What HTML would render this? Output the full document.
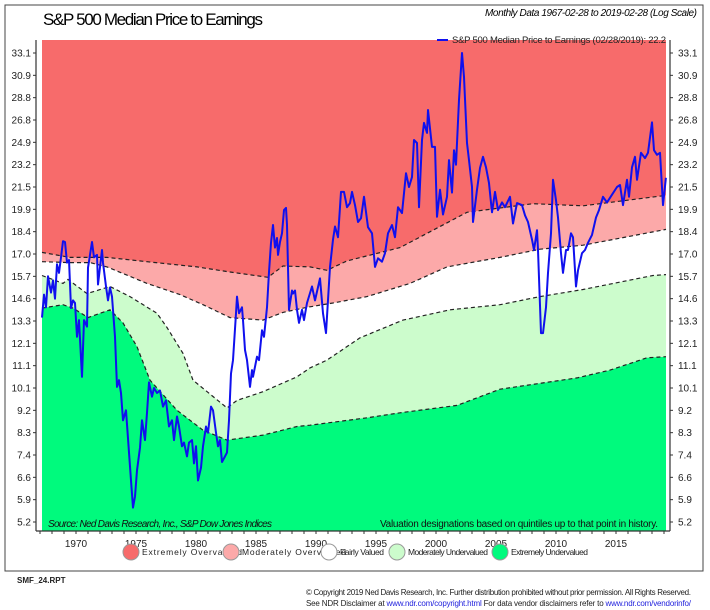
<!DOCTYPE html>
<html><head><meta charset="utf-8"><style>
body{margin:0;background:#fff;}
svg{display:block;font-family:"Liberation Sans",sans-serif;}
</style></head><body>
<svg id="chart" width="710" height="610" viewBox="0 0 710 610">
<rect x="5" y="5" width="698" height="566" fill="#fff" stroke="#444" stroke-width="1"/>
<text x="43" y="25" font-size="17" textLength="220">S&amp;P 500 Median Price to Earnings</text>
<text x="697" y="16" font-size="10" font-style="italic" text-anchor="end" textLength="212">Monthly Data 1967-02-28 to 2019-02-28 (Log Scale)</text>
<g id="bands"></g>
<g id="bounds"></g>
<g id="series"></g>
<g id="axes"></g>
<line x1="437" y1="40" x2="448" y2="40" stroke="#1010ee" stroke-width="2"/>
<text x="452" y="43" font-size="9.5" fill="#222" textLength="214">S&amp;P 500 Median Price to Earnings (02/28/2019): 22.2</text>
<text x="48" y="527" font-size="10" font-style="italic" fill="#111" textLength="224">Source:   Ned Davis Research, Inc., S&amp;P Dow Jones Indices</text>
<text x="658" y="527" font-size="10" text-anchor="end" fill="#111" textLength="278">Valuation designations based on quintiles up to that point in history.</text>
<g id="legend" font-size="8.5" fill="#222">
<g><circle cx="131" cy="552" r="8" fill="#f76b6b" stroke="#999"/><text x="142" y="555" textLength="100">Extremely Overvalued</text></g>
<g><circle cx="231" cy="552" r="8" fill="#fca9a9" stroke="#999"/><text x="242" y="555" textLength="104">Moderately Overvalued</text></g>
<g><circle cx="329" cy="552" r="8" fill="#fff" stroke="#999"/><text x="340" y="555" textLength="44">Fairly Valued</text></g>
<g><circle cx="397" cy="552" r="8" fill="#ccfccc" stroke="#999"/><text x="408" y="555" textLength="80">Moderately Undervalued</text></g>
<g><circle cx="500" cy="552" r="8" fill="#00fa7d" stroke="#999"/><text x="511" y="555" textLength="77">Extremely Undervalued</text></g>
</g>
<text x="17" y="583" font-size="8" font-weight="bold" fill="#222">SMF_24.RPT</text>
<text x="691" y="595" font-size="8" text-anchor="end" fill="#222" textLength="385">© Copyright 2019 Ned Davis Research, Inc. Further distribution prohibited without prior permission. All Rights Reserved.</text>
<text x="691" y="606" font-size="8" text-anchor="end" fill="#222" textLength="385">See NDR Disclaimer at <tspan fill="#2222dd">www.ndr.com/copyright.html</tspan>   For data vendor disclaimers refer to <tspan fill="#2222dd">www.ndr.com/vendorinfo/</tspan></text>
</svg>
<script>
const tickLabels=[33.1,30.9,28.8,26.8,24.9,23.2,21.5,19.9,18.4,17.0,15.7,14.6,13.3,12.1,11.1,10.1,9.2,8.3,7.4,6.6,5.9,5.2];
const yearTicks=[1970,1975,1980,1985,1990,1995,2000,2005,2010,2015];
const peYears=[1967.17,1967.33,1967.5,1967.67,1967.92,1968.08,1968.25,1968.42,1968.58,1968.75,1968.92,1969.08,1969.25,1969.42,1969.58,1969.75,1969.92,1970.08,1970.25,1970.5,1970.67,1970.92,1971.0,1971.33,1971.5,1971.75,1971.83,1972.17,1972.25,1972.5,1972.67,1972.83,1973.0,1973.25,1973.42,1973.58,1973.75,1973.92,1974.17,1974.42,1974.58,1974.75,1974.92,1975.08,1975.33,1975.5,1975.75,1975.92,1976.08,1976.33,1976.5,1976.75,1977.0,1977.25,1977.5,1977.75,1978.0,1978.17,1978.42,1978.58,1978.83,1979.0,1979.25,1979.42,1979.67,1979.83,1980.0,1980.17,1980.42,1980.58,1980.83,1981.0,1981.25,1981.42,1981.67,1981.83,1982.0,1982.17,1982.42,1982.58,1982.75,1982.92,1983.08,1983.33,1983.42,1983.58,1983.83,1983.92,1984.08,1984.25,1984.5,1984.67,1984.75,1985.08,1985.25,1985.5,1985.67,1985.92,1986.08,1986.25,1986.42,1986.58,1986.75,1986.83,1987.0,1987.17,1987.33,1987.5,1987.58,1987.75,1988.0,1988.08,1988.25,1988.42,1988.58,1988.83,1989.0,1989.25,1989.67,1989.92,1990.33,1990.58,1990.83,1991.17,1991.42,1991.58,1991.83,1992.08,1992.33,1992.58,1992.83,1993.0,1993.25,1993.5,1993.75,1994.0,1994.33,1994.67,1994.92,1995.17,1995.5,1995.75,1996.0,1996.33,1996.58,1996.83,1997.17,1997.5,1997.75,1998.0,1998.17,1998.42,1998.58,1998.83,1999.0,1999.25,1999.33,1999.67,1999.92,2000.08,2000.33,2000.58,2000.92,2001.08,2001.33,2001.5,2001.67,2001.92,2002.17,2002.33,2002.58,2002.75,2003.0,2003.08,2003.42,2003.67,2003.92,2004.17,2004.42,2004.67,2004.92,2005.17,2005.5,2005.75,2006.17,2006.42,2006.75,2007.17,2007.42,2007.67,2008.0,2008.17,2008.42,2008.5,2008.75,2008.92,2009.17,2009.33,2009.58,2009.75,2010.0,2010.17,2010.42,2010.58,2010.83,2011.0,2011.25,2011.42,2011.67,2011.83,2012.17,2012.42,2012.67,2013.0,2013.33,2013.58,2013.92,2014.25,2014.67,2015.08,2015.33,2015.58,2015.92,2016.08,2016.33,2016.58,2016.75,2017.08,2017.42,2017.67,2018.0,2018.17,2018.42,2018.67,2018.92,2019.16];
const peValues=[13.5,14.8,14.1,15.7,14.9,15.5,14.6,16.4,15.9,16.8,17.8,17.75,16.5,16.65,14.05,14.5,14.35,12.45,13.35,10.6,13.35,13.0,16.2,17.75,16.8,16.95,15.3,17.25,16.5,15.2,14.5,15.15,14.7,12.45,10.15,10.45,9.9,8.8,9.2,7.5,6.5,5.65,6.0,6.85,7.7,8.8,8.0,9.1,10.35,9.75,10.1,9.9,10.0,9.35,9.6,8.55,8.8,8.0,8.95,8.55,7.75,7.9,7.35,7.9,8.0,7.1,7.75,6.5,6.95,7.75,8.55,8.3,9.35,9.2,8.3,7.75,8.0,7.15,7.35,7.5,8.8,10.75,11.35,13.75,14.7,13.75,14.1,13.35,11.8,11.35,10.15,10.9,10.6,11.5,11.35,12.8,12.45,14.1,15.95,17.7,18.85,17.4,18.0,16.95,17.75,18.3,19.85,20.0,18.85,13.95,15.0,14.85,15.0,13.95,13.2,13.95,13.35,14.35,15.2,14.5,15.6,13.75,12.65,16.25,17.9,18.75,18.05,21.15,21.15,20.05,20.35,21.15,20.2,19.05,19.3,20.8,18.7,18.3,16.25,16.75,16.55,17.05,18.3,18.85,18.05,20.05,19.65,22.55,21.5,22.25,25.1,24.85,20.05,25.1,26.55,25.7,27.7,24.55,24.55,19.4,21.3,19.55,20.8,23.55,21.1,24.3,23.2,28.6,33.1,30.75,24.85,23.55,21.5,19.05,21.3,22.95,23.8,23.0,21.8,19.7,21.15,19.85,20.4,20.05,20.8,18.95,20.35,20.2,19.5,19.05,17.9,17.25,18.5,17.25,12.65,12.65,14.1,15.9,18.3,22.05,20.55,19.35,17.05,15.9,17.25,17.25,18.3,18.05,15.2,16.05,17.05,17.25,17.7,18.2,19.35,19.85,20.8,20.4,20.95,21.5,21.65,20.2,22.05,20.8,23.0,23.8,22.05,24.1,23.7,24.1,26.6,24.3,23.95,24.1,20.2,22.2];
const extOverYears=[1967.17,1969.5,1972.58,1975.92,1980.08,1982.83,1986.0,1987.25,1989.5,1990.92,1992.58,1997.0,1999.75,2002.58,2008.08,2012.25,2019.17];
const extOverValues=[17.1,16.8,16.8,16.55,16.25,15.95,15.65,16.3,16.25,16.05,16.6,17.4,18.5,19.7,20.3,20.15,20.9];
const modOverYears=[1967.17,1969.5,1971.17,1972.58,1975.92,1978.67,1980.58,1982.83,1985.58,1987.25,1989.25,1991.42,1994.25,1997.83,2000.92,2005.33,2008.67,2012.25,2019.17];
const modOverValues=[16.55,16.5,16.5,16.25,15.35,14.8,14.25,13.5,13.35,13.8,14.1,14.35,14.7,15.35,16.25,16.8,17.3,17.55,18.55];
const modUnderYears=[1967.17,1968.92,1969.33,1970.92,1972.83,1974.5,1976.75,1977.58,1978.92,1979.75,1982.58,1983.42,1985.58,1988.42,1989.5,1990.92,1993.67,1997.25,2001.17,2005.33,2008.67,2012.25,2018.08,2019.17];
const modUnderValues=[15.75,15.35,15.55,14.85,15.2,14.7,13.75,12.95,11.65,10.45,9.3,9.6,9.95,10.6,11.0,11.35,12.4,13.35,13.95,14.25,14.7,15.05,15.75,15.8];
const extUnderYears=[1967.17,1968.92,1969.75,1971.0,1972.83,1973.92,1975.08,1976.17,1978.42,1980.58,1982.58,1985.58,1988.42,1989.5,1994.25,1997.0,2001.75,2005.33,2011.75,2014.5,2017.58,2019.17];
const extUnderValues=[14.05,14.25,14.05,13.5,13.95,13.2,11.95,10.45,9.2,8.4,8.0,8.2,8.55,8.6,8.9,9.1,9.4,10.05,10.55,10.9,11.45,11.5];

const NS='http://www.w3.org/2000/svg';
const PL=42,PR=666,PT=40,PB=531,AXL=36,AXR=670;
const Y0=53,YSTEP=(522-53)/(tickLabels.length-1);
function xOf(yr){return 76+(yr-1970)*12;}
function yOf(v){
  const t=tickLabels;
  if(v>=t[0]) return Y0-(v-t[0])/(t[0]-t[1])*YSTEP;
  for(let i=0;i<t.length-1;i++){
    if(v<=t[i]&&v>=t[i+1]) return Y0+(i+(t[i]-v)/(t[i]-t[i+1]))*YSTEP;
  }
  const n=t.length-1;return Y0+(n+(t[n]-v)/(t[n-1]-t[n]))*YSTEP;
}
function mk(tag,attrs,parent){const e=document.createElementNS(NS,tag);for(const k in attrs)e.setAttribute(k,attrs[k]);parent.appendChild(e);return e;}
const bands=document.getElementById('bands');
const r=mk('rect',{x:PL,y:PT,width:PR-PL,height:PB-PT,fill:'#f76b6b'},bands);


function pts(ys,vs){return ys.map((y,i)=>[Math.max(PL,Math.min(PR,xOf(y))),yOf(vs[i])]);}
const bandDefs=[[extOverYears,extOverValues,'#fca9a9','moderately-overvalued-zone'],[modOverYears,modOverValues,'#ffffff','fairly-valued-zone'],[modUnderYears,modUnderValues,'#ccfccc','moderately-undervalued-zone'],[extUnderYears,extUnderValues,'#00fa7d','extremely-undervalued-zone']];
const bounds=document.getElementById('bounds');
bandDefs.forEach(b=>{
  const p=pts(b[0],b[1]);
  const d='M'+PL+','+PB+' '+p.map(q=>'L'+q[0].toFixed(1)+','+q[1].toFixed(1)).join(' ')+' L'+PR+','+PB+' Z';
  const e=mk('path',{d:d,fill:b[2]},bands);
  
  
  const l=mk('polyline',{points:p.map(q=>q[0].toFixed(1)+','+q[1].toFixed(1)).join(' '),fill:'none',stroke:'#222','stroke-width':1.2,'stroke-dasharray':'4,3'},bounds);
  
  
});
const ser=document.getElementById('series');
const line=mk('polyline',{points:peYears.map((y,i)=>xOf(y).toFixed(1)+','+yOf(peValues[i]).toFixed(1)).join(' '),fill:'none',stroke:'#1010ee','stroke-width':2,'stroke-linejoin':'round'},ser);


const ax=document.getElementById('axes');
const al=mk('line',{x1:AXL,y1:PT,x2:AXL,y2:PB,stroke:'#333','stroke-width':1.2},ax);


const ar=mk('line',{x1:AXR,y1:PT,x2:AXR,y2:PB,stroke:'#333','stroke-width':1.2},ax);


const ab=mk('line',{x1:AXL,y1:PB,x2:AXR,y2:PB,stroke:'#333','stroke-width':1.2},ax);


tickLabels.forEach(v=>{
  const y=yOf(v);
  mk('line',{x1:AXL-3,y1:y,x2:AXL,y2:y,stroke:'#333'},ax);
  mk('line',{x1:AXR,y1:y,x2:AXR+3,y2:y,stroke:'#333'},ax);
  const t=mk('text',{x:31,y:y+3.5,'font-size':10,'text-anchor':'end',fill:'#222'},ax);
  t.textContent=v.toFixed(1);
  
  
  const t2=mk('text',{x:678,y:y+3.5,'font-size':10,fill:'#222'},ax);
  t2.textContent=v.toFixed(1);
  
  
});
for(let yr=1967;yr<=2019;yr++){
  const x=xOf(yr);
  mk('line',{x1:x,y1:PB,x2:x,y2:PB+3,stroke:'#333'},ax);
}
yearTicks.forEach(yr=>{
  const t=mk('text',{x:xOf(yr),y:547,'font-size':10,'text-anchor':'middle',fill:'#222'},ax);
  t.textContent=yr;
  
  
});
</script>
</body></html>
